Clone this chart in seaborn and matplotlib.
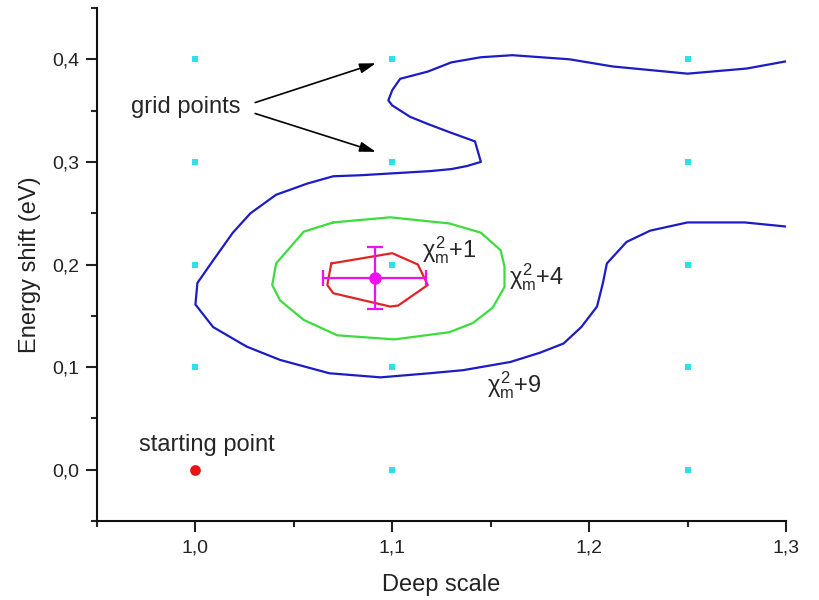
import matplotlib
matplotlib.use("Agg")
import matplotlib.pyplot as plt
import seaborn as sns
import pandas as pd
from matplotlib.ticker import MultipleLocator, FuncFormatter

# ---- data ----
blue_x = [1.300, 1.280, 1.250, 1.212, 1.190, 1.161, 1.145, 1.130, 1.118, 1.104, 1.100, 1.098,
          1.100, 1.109, 1.118, 1.129, 1.142, 1.145, 1.138, 1.130, 1.119, 1.084, 1.070, 1.057,
          1.041, 1.028, 1.019, 1.009, 1.001, 1.000, 1.009, 1.026, 1.043, 1.068, 1.094, 1.119,
          1.136, 1.160, 1.175, 1.187, 1.196, 1.204, 1.207, 1.209, 1.219, 1.231, 1.250, 1.279, 1.300]
blue_y = [0.398, 0.391, 0.386, 0.393, 0.400, 0.404, 0.402, 0.397, 0.388, 0.381, 0.370, 0.360,
          0.355, 0.344, 0.337, 0.329, 0.320, 0.300, 0.296, 0.293, 0.291, 0.287, 0.286, 0.279,
          0.268, 0.250, 0.231, 0.204, 0.182, 0.161, 0.139, 0.120, 0.107, 0.094, 0.090, 0.094,
          0.097, 0.105, 0.114, 0.123, 0.139, 0.159, 0.182, 0.201, 0.222, 0.233, 0.241, 0.241, 0.237]

green_x = [1.070, 1.099, 1.119, 1.129, 1.145, 1.155, 1.157, 1.157, 1.151, 1.141, 1.129, 1.101,
           1.072, 1.055, 1.043, 1.039, 1.041, 1.055, 1.070]
green_y = [0.241, 0.246, 0.242, 0.240, 0.231, 0.214, 0.198, 0.178, 0.158, 0.143, 0.134, 0.127,
           0.131, 0.146, 0.165, 0.180, 0.201, 0.232, 0.241]

red_x = [1.069, 1.100, 1.113, 1.118, 1.103, 1.099, 1.070, 1.067, 1.069]
red_y = [0.201, 0.211, 0.200, 0.180, 0.160, 0.159, 0.172, 0.180, 0.201]

grid_x = [1.0, 1.0, 1.0, 1.0, 1.1, 1.1, 1.1, 1.1, 1.1, 1.25, 1.25, 1.25, 1.25, 1.25]
grid_y = [0.1, 0.2, 0.3, 0.4, 0.0, 0.1, 0.2, 0.3, 0.4, 0.0, 0.1, 0.2, 0.3, 0.4]

start_x = [1.0]
start_y = [0.0]

best_x = [1.091]
best_y = [0.187]
best_xerr = [0.026]
best_yerr = [0.030]

x_ticks = [1.0, 1.1, 1.2, 1.3]
y_ticks = [0.0, 0.1, 0.2, 0.3, 0.4]

# ---- styling ----
sns.set_theme(style="ticks")
plt.rcParams["font.family"] = ["Liberation Sans", "DejaVu Sans"]
plt.rcParams["mathtext.fontset"] = "custom"
plt.rcParams["mathtext.rm"] = "Liberation Sans"
plt.rcParams["mathtext.it"] = "Liberation Sans"
plt.rcParams["mathtext.bf"] = "Liberation Sans:bold"

fig = plt.figure(figsize=(8.19, 6.0), dpi=100)
ax = fig.add_axes([97 / 819, 79 / 600, 689 / 819, 513 / 600])

df_blue = pd.DataFrame({"x": blue_x, "y": blue_y})
df_green = pd.DataFrame({"x": green_x, "y": green_y})
df_red = pd.DataFrame({"x": red_x, "y": red_y})
df_grid = pd.DataFrame({"x": grid_x, "y": grid_y})

sns.lineplot(data=df_blue, x="x", y="y", sort=False, color="#1c1cc4", lw=1.6, ax=ax, estimator=None)
sns.lineplot(data=df_green, x="x", y="y", sort=False, color="#3ddc3d", lw=1.6, ax=ax, estimator=None)
sns.lineplot(data=df_red, x="x", y="y", sort=False, color="#e02424", lw=1.6, ax=ax, estimator=None)

sns.scatterplot(data=df_grid, x="x", y="y", marker="s", s=24, color="#2ee0ea", linewidth=0, ax=ax)
sns.scatterplot(x=start_x, y=start_y, marker="o", s=60, color="#e81414", linewidth=0, ax=ax)

ax.errorbar(best_x, best_y, xerr=best_xerr, yerr=best_yerr, fmt="o", color="#f00ff0",
            ms=8, lw=1.6, capsize=6, capthick=1.6)

# annotations
ax.text(0.995, 0.3535, "grid points", fontsize=17, ha="center", va="center")
ax.annotate("", xy=(1.093, 0.397), xytext=(1.029, 0.357),
            arrowprops=dict(arrowstyle="-|>,head_length=0.8,head_width=0.25", color="black", lw=1.2))
ax.annotate("", xy=(1.093, 0.309), xytext=(1.029, 0.348),
            arrowprops=dict(arrowstyle="-|>,head_length=0.8,head_width=0.25", color="black", lw=1.2))
ax.text(1.006, 0.024, "starting point", fontsize=17, ha="center", va="center")

ax.text(1.129, 0.214, r"$\chi_m^2$+1", fontsize=17, ha="center", va="center")
ax.text(1.1735, 0.188, r"$\chi_m^2$+4", fontsize=17, ha="center", va="center")
ax.text(1.162, 0.082, r"$\chi_m^2$+9", fontsize=17, ha="center", va="center")

# axes
ax.set_xlim(0.95, 1.30)
ax.set_ylim(-0.05, 0.45)
ax.set_xticks(x_ticks)
ax.set_yticks(y_ticks)
ax.xaxis.set_minor_locator(MultipleLocator(0.05))
ax.yaxis.set_minor_locator(MultipleLocator(0.05))
fmt = FuncFormatter(lambda v, p: f"{v:.1f}".replace(".", ","))
ax.xaxis.set_major_formatter(fmt)
ax.yaxis.set_major_formatter(fmt)
ax.tick_params(which="major", direction="out", length=8, width=1.5, labelsize=14, colors="#222222", pad=5)
ax.tick_params(which="minor", direction="out", length=4.5, width=1.5)
for s in ["top", "right"]:
    ax.spines[s].set_visible(False)
for s in ["left", "bottom"]:
    ax.spines[s].set_linewidth(1.5)
    ax.spines[s].set_color("#111111")

ax.set_xlabel("Deep scale", fontsize=17, color="#222222", labelpad=13)
ax.set_ylabel("Energy shift (eV)", fontsize=17, color="#222222", labelpad=8)
ax.set_facecolor("white")

fig.savefig("out.png", dpi=100, facecolor="white")
